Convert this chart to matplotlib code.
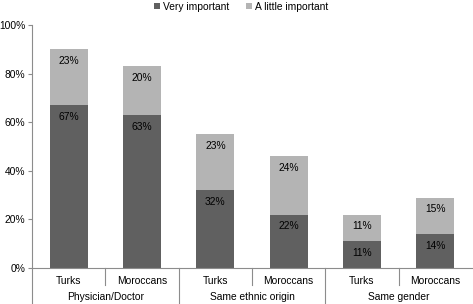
import matplotlib.pyplot as plt
import numpy as np

groups = ["Physician/Doctor", "Same ethnic origin", "Same gender"]
subgroups = ["Turks", "Moroccans"]
very_important = [67, 63, 32, 22, 11, 14]
little_important = [23, 20, 23, 24, 11, 15]
ytick_labels = ["0%", "20%", "40%", "60%", "80%", "100%"]

dark = "#606060"
light = "#b4b4b4"
grid_col = "#8c8c8c"

plt.rcParams['font.family'] = ['Liberation Sans', 'DejaVu Sans']

fig = plt.figure(figsize=(4.73, 3.04), dpi=100)
ax = fig.add_axes([32 / 473, 36 / 304, 440 / 473, 243 / 304])

x = np.arange(len(very_important))
vi = np.array(very_important) / 100
li = np.array(little_important) / 100
ax.bar(x, vi, width=0.52, color=dark, label="Very important")
ax.bar(x, li, width=0.52, bottom=vi, color=light, label="A little important")

for xi, a, b in zip(x, vi, li):
    ax.annotate(f"{round(a*100)}%", (xi, a), xytext=(0, -8.5), textcoords="offset points",
                ha="center", va="center", fontsize=7.4)
    ax.annotate(f"{round(b*100)}%", (xi, a + b), xytext=(0, -8.5), textcoords="offset points",
                ha="center", va="center", fontsize=7.4)

ax.set_xlim(-0.5, len(x) - 0.5)
ax.set_ylim(0, 1)
ax.set_yticks(np.linspace(0, 1, 6))
ax.set_yticklabels(ytick_labels, fontsize=7.4)
ax.tick_params(axis="y", direction="out", length=3, color=grid_col, pad=2)
ax.set_xticks([])
for s in ["top", "right"]:
    ax.spines[s].set_visible(False)
for s in ["left", "bottom"]:
    ax.spines[s].set_color(grid_col)
    ax.spines[s].set_linewidth(0.8)

# two-level category axis
tr = ax.get_xaxis_transform()
ax.plot([-0.5, -0.5], [0, -36 / 243], transform=tr, color=grid_col, lw=0.8, clip_on=False)
for i in range(len(x)):
    ax.text(x[i], -13 / 243, subgroups[i % 2], transform=tr, ha="center", va="center", fontsize=7.4)
    edge = i + 0.5
    if i == len(x) - 1:
        continue
    if i % 2 == 0:
        ax.plot([edge, edge], [0, -17 / 243], transform=tr, color=grid_col, lw=0.8, clip_on=False)
    else:
        ax.plot([edge, edge], [0, -36 / 243], transform=tr, color=grid_col, lw=0.8, clip_on=False)
for g, name in enumerate(groups):
    ax.text(2 * g + 0.5, -29 / 243, name, transform=tr, ha="center", va="center", fontsize=7.4)

fig.legend(loc="upper center", bbox_to_anchor=(0.51, 1.025), ncol=2, frameon=False,
           fontsize=7.4, handlelength=0.6, handleheight=0.6, handletextpad=0.3, columnspacing=1.6)

fig.savefig("out.png", dpi=100)
